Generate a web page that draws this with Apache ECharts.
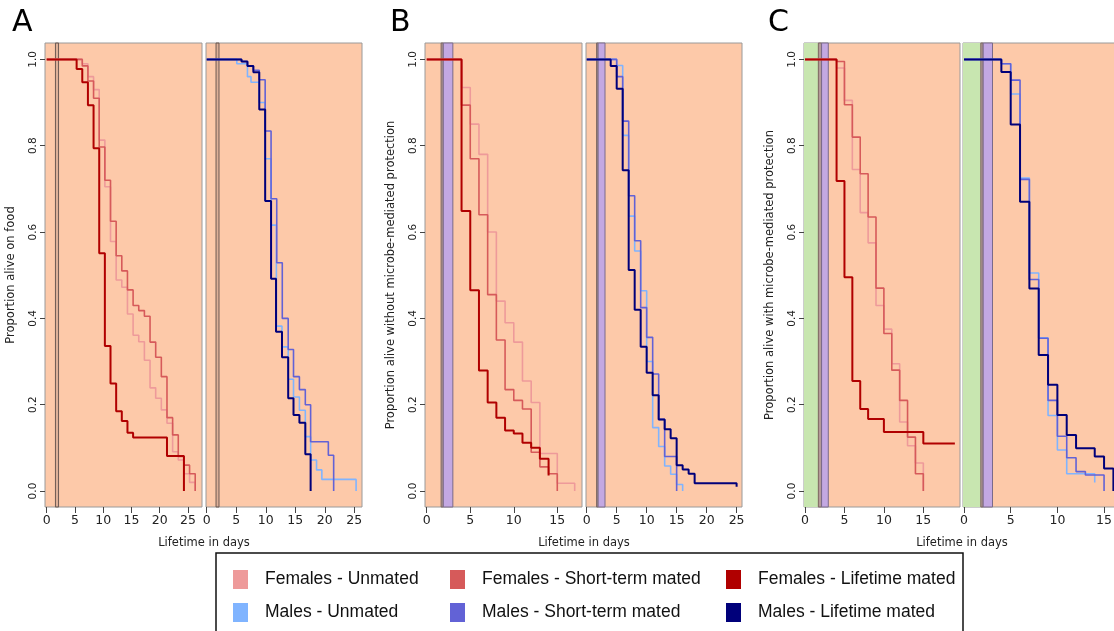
<!DOCTYPE html>
<html>
<head>
<meta charset="utf-8">
<script src="https://cdn.jsdelivr.net/npm/echarts@6/dist/echarts.min.js"></script>
<style>
  html, body { margin: 0; padding: 0; background: #fff; }
  #main { width: 1114px; height: 631px; }
</style>
</head>
<body>
<div id="main"></div>
<script>
  // survival curves: [day, proportion alive]
  // A - on food
  var foodFemUnmated = [[0,1],[6.3,0.99],[7.3,0.96],[8.3,0.93],[9.3,0.813],[10.3,0.705],[11.3,0.578],[12.3,0.489],[13.3,0.472],[14.3,0.41],[15.3,0.361],[16.3,0.346],[17.3,0.303],[18.3,0.239],[19.3,0.215],[20.3,0.188],[21.3,0.157],[22.3,0.091],[23.3,0.072],[24.3,0.04],[25.3,0.02],[26.3,0]];
  var foodFemShort = [[0,1],[6.3,0.985],[7.3,0.95],[8.3,0.91],[9.3,0.797],[10.3,0.72],[11.3,0.625],[12.3,0.545],[13.3,0.51],[14.3,0.466],[15.3,0.43],[16.3,0.418],[17.3,0.405],[18.3,0.345],[19.3,0.31],[20.3,0.265],[21.3,0.17],[22.3,0.13],[23.3,0.08],[24.3,0.06],[25.3,0.04],[26.3,0]];
  var foodFemLife = [[0,1],[5.3,0.978],[6.3,0.947],[7.3,0.894],[8.3,0.794],[9.3,0.551],[10.3,0.336],[11.3,0.249],[12.3,0.185],[13.3,0.162],[14.3,0.135],[15.3,0.124],[21.3,0.081],[24.3,0]];
  var foodMalUnmated = [[0,1],[5.1,0.99],[6.9,0.96],[7.5,0.947],[8.9,0.90],[9.9,0.77],[10.9,0.616],[11.8,0.382],[12.75,0.334],[13.8,0.259],[14.7,0.218],[15.7,0.187],[16.7,0.126],[17.6,0.072],[18.6,0.049],[19.5,0.027],[25.3,0]];
  var foodMalShort = [[0,1],[5.9,0.995],[6.9,0.985],[7.9,0.975],[8.9,0.953],[9.9,0.834],[10.9,0.677],[11.86,0.529],[12.8,0.40],[13.8,0.328],[14.7,0.265],[15.7,0.235],[16.7,0.20],[17.6,0.114],[20.6,0.083],[21.5,0]];
  var foodMalLife = [[0,1],[5.9,0.995],[6.9,0.985],[7.9,0.97],[8.9,0.884],[9.9,0.672],[10.9,0.492],[11.74,0.369],[12.75,0.31],[13.8,0.215],[14.7,0.176],[15.7,0.158],[16.7,0.085],[17.6,0]];

  // B - without microbe-mediated protection
  var noProtFemUnmated = [[0,1],[4,0.935],[5,0.85],[6,0.78],[7,0.60],[8,0.44],[9,0.39],[10,0.345],[11,0.255],[12,0.205],[13,0.087],[15,0.018],[17,0]];
  var noProtFemShort = [[0,1],[4,0.894],[5,0.77],[6,0.64],[7,0.455],[8,0.35],[9,0.235],[10,0.21],[11,0.19],[12,0.09],[13,0.056],[14,0.04],[15,0]];
  var noProtFemLife = [[0,1],[4,0.649],[5,0.465],[6,0.279],[7,0.205],[8,0.17],[9,0.14],[10,0.133],[11,0.112],[12,0.10],[13,0.075],[14,0.036]];
  var noProtMalUnmated = [[0,1],[5,0.986],[6,0.824],[7,0.637],[8,0.556],[9,0.464],[10,0.30],[11,0.147],[12,0.103],[13,0.058],[14,0.039],[15,0.015],[16,0]];
  var noProtMalShort = [[0,1],[5,0.96],[6,0.857],[7,0.684],[8,0.58],[9,0.425],[10,0.356],[11,0.271],[12,0.166],[13,0.08],[15,0]];
  var noProtMalLife = [[0,1],[4,0.985],[5,0.932],[6,0.743],[7,0.512],[8,0.42],[9,0.334],[10,0.274],[11,0.222],[12,0.166],[13,0.143],[14,0.122],[15,0.06],[16,0.05],[17,0.04],[18,0.018],[25,0.01]];

  // C - with microbe-mediated protection
  var protFemUnmated = [[0,1],[4,0.98],[5,0.905],[6,0.745],[7,0.645],[8,0.575],[9,0.43],[10,0.375],[11,0.295],[12,0.16],[13,0.105],[14,0.065],[15,0]];
  var protFemShort = [[0,1],[4,0.995],[5,0.895],[6,0.82],[7,0.735],[8,0.635],[9,0.47],[10,0.365],[11,0.28],[12,0.21],[13,0.125],[14,0.04],[15,0]];
  var protFemLife = [[0,1],[4,0.718],[5,0.495],[6,0.255],[7,0.19],[8,0.167],[10,0.137],[15,0.11],[19,0.11]];
  var protMalUnmated = [[0,1],[4,0.99],[5,0.92],[6,0.725],[7,0.505],[8,0.355],[9,0.175],[10,0.095],[11,0.04],[14,0.02]];
  var protMalShort = [[0,1],[4,0.99],[5,0.952],[6,0.722],[7,0.49],[8,0.354],[9,0.21],[10,0.127],[11,0.077],[12,0.045],[13,0.037],[15,0]];
  var protMalLife = [[0,1],[4,0.971],[5,0.849],[6,0.67],[7,0.469],[8,0.315],[9,0.246],[10,0.176],[11,0.13],[12,0.099],[14,0.08],[15,0.052],[16,0]];

  // exposure windows (days)
  var bandsFoodF = [[1.55, 2.1]];
  var bandsFoodM = [[1.58, 2.08]];
  var bandsNoProtF = [[1.65, 1.9], [1.9, 3.0]];
  var bandsNoProtM = [[1.65, 1.9], [1.9, 3.05]];
  var bandsProtF = [[-0.13, 1.69], [1.69, 2.1], [2.1, 2.95]];
  var bandsProtM = [[-0.11, 1.8], [1.8, 2.05], [2.05, 3.05]];

  var ticks25 = [0, 5, 10, 15, 20, 25];
  var ticks15 = [0, 5, 10, 15];
  var yTicks = [0, 0.2, 0.4, 0.6, 0.8, 1.0];

  var names = ['Females - Unmated', 'Females - Short-term mated', 'Females - Lifetime mated',
               'Males - Unmated', 'Males - Short-term mated', 'Males - Lifetime mated'];
  var colors = ['#ee9a9a', '#d65a5a', '#b00000', '#80b4ff', '#6262d6', '#00007a'];

  var bandColors = ['#c8e6b0', '#b49a98', '#c3a8e2'];

  var panels = [
    {left: 45, width: 157, min: -0.3, max: 27.5, ticks: ticks25, yName: 'Proportion alive on food',
     lines: [foodFemUnmated, foodFemShort, foodFemLife], sex: 0, bands: bandsFoodF, bandKind: ['line']},
    {left: 206, width: 156, min: -0.12, max: 26.3, ticks: ticks25,
     lines: [foodMalUnmated, foodMalShort, foodMalLife], sex: 3, bands: bandsFoodM, bandKind: ['line']},
    {left: 425, width: 157, min: -0.2, max: 17.84, ticks: ticks15, yName: 'Proportion alive without microbe-mediated protection',
     lines: [noProtFemUnmated, noProtFemShort, noProtFemLife], sex: 0, bands: bandsNoProtF, bandKind: ['brown', 'purple']},
    {left: 586, width: 156, min: -0.12, max: 25.9, ticks: ticks25,
     lines: [noProtMalUnmated, noProtMalShort, noProtMalLife], sex: 3, bands: bandsNoProtM, bandKind: ['brown', 'purple']},
    {left: 804, width: 156, min: -0.13, max: 19.65, ticks: ticks15, yName: 'Proportion alive with microbe-mediated protection',
     lines: [protFemUnmated, protFemShort, protFemLife], sex: 0, bands: bandsProtF, bandKind: ['green', 'brown', 'purple']},
    {left: 963, width: 156, min: -0.11, max: 16.6, ticks: ticks15,
     lines: [protMalUnmated, protMalShort, protMalLife], sex: 3, bands: bandsProtM, bandKind: ['green', 'brown', 'purple']}
  ];

  var grids = [], xAxes = [], yAxes = [], series = [];

  panels.forEach(function (p, i) {
    grids.push({
      left: p.left, top: 43, width: p.width, height: 464,
      outerBoundsMode: 'none', containLabel: false,
      show: true, backgroundColor: '#fdc9a9', borderColor: '#9a9a9a', borderWidth: 1
    });
    xAxes.push({
      type: 'value', gridIndex: i, min: p.min, max: p.max, position: 'bottom',
      axisLine: {show: false, onZero: false},
      axisTick: {show: true, inside: false, length: 6, lineStyle: {color: '#444'}, customValues: p.ticks},
      axisLabel: {fontSize: 12.5, color: '#222', fontFamily: 'DejaVu Sans', margin: 7, customValues: p.ticks},
      splitLine: {show: false}
    });
    var hasY = !!p.yName;
    yAxes.push({
      type: 'value', gridIndex: i, min: -0.037, max: 1.038, position: 'left',
      name: p.yName || '', nameLocation: 'middle', nameGap: 28,
      nameTextStyle: {fontSize: 11.5, color: '#222', fontFamily: 'DejaVu Sans'},
      axisLine: {show: false, onZero: false},
      axisTick: {show: hasY, inside: false, length: 5, lineStyle: {color: '#444'}, customValues: yTicks},
      axisLabel: {show: hasY, rotate: 90, fontSize: 10.5, color: '#222', fontFamily: 'DejaVu Sans', margin: 6,
        customValues: yTicks, formatter: function (v) { return v.toFixed(1); }},
      splitLine: {show: false}
    });

    var areas = p.bands.map(function (b, k) {
      var kind = p.bandKind[k];
      var style;
      if (kind === 'line') style = {color: 'rgba(160,130,120,0.35)', borderColor: '#6e5a52', borderWidth: 1};
      else if (kind === 'green') style = {color: bandColors[0], borderWidth: 0};
      else if (kind === 'brown') style = {color: bandColors[1], borderColor: '#7a6660', borderWidth: 1};
      else style = {color: bandColors[2], borderColor: '#7a6a8a', borderWidth: 1};
      return [{xAxis: b[0], itemStyle: style}, {xAxis: b[1]}];
    });

    p.lines.forEach(function (d, k) {
      var idx = p.sex + k;
      var s = {
        name: names[idx], type: 'line', step: 'end', data: d,
        xAxisIndex: i, yAxisIndex: i, symbol: 'none', showSymbol: false,
        color: colors[idx], lineStyle: {width: k === 2 ? 2 : 1.6, color: colors[idx]},
        animation: false, z: 3 + k
      };
      if (k === 0) {
        s.markArea = {silent: true, z: 1, label: {show: false}, data: areas};
      }
      series.push(s);
    });
  });

  var legendBase = {
    orient: 'vertical', top: 565, itemWidth: 15, itemHeight: 19, itemGap: 14,
    icon: 'rect', selectedMode: false,
    textStyle: {fontSize: 17.5, color: '#111', fontFamily: 'Liberation Sans', padding: [0, 0, 0, 12]}
  };

  var chart = echarts.init(document.getElementById('main'));
  chart.setOption({
    animation: false,
    backgroundColor: '#ffffff',
    grid: grids,
    xAxis: xAxes,
    yAxis: yAxes,
    legend: [
      Object.assign({}, legendBase, {left: 228, data: [names[0], names[3]]}),
      Object.assign({}, legendBase, {left: 445, data: [names[1], names[4]]}),
      Object.assign({}, legendBase, {left: 721, data: [names[2], names[5]]})
    ],
    graphic: [
      {type: 'rect', shape: {x: 216, y: 553, width: 747, height: 90}, style: {fill: 'none', stroke: '#111', lineWidth: 1.5}},
      {type: 'text', left: 12, top: 8, style: {text: 'A', fontSize: 30, fill: '#000', fontFamily: 'DejaVu Sans'}},
      {type: 'text', left: 390, top: 8, style: {text: 'B', fontSize: 30, fill: '#000', fontFamily: 'DejaVu Sans'}},
      {type: 'text', left: 768, top: 8, style: {text: 'C', fontSize: 30, fill: '#000', fontFamily: 'DejaVu Sans'}},
      {type: 'text', x: 204, y: 537, style: {text: 'Lifetime in days', fontSize: 11.5, fill: '#222', align: 'center', fontFamily: 'DejaVu Sans'}},
      {type: 'text', x: 584, y: 537, style: {text: 'Lifetime in days', fontSize: 11.5, fill: '#222', align: 'center', fontFamily: 'DejaVu Sans'}},
      {type: 'text', x: 962, y: 537, style: {text: 'Lifetime in days', fontSize: 11.5, fill: '#222', align: 'center', fontFamily: 'DejaVu Sans'}}
    ],
    series: series
  });
</script>
</body>
</html>
